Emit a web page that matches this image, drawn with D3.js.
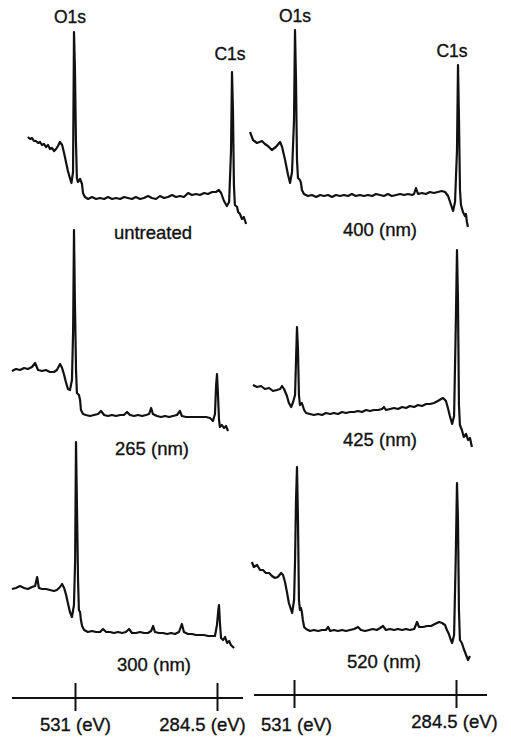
<!DOCTYPE html>
<html>
<head>
<meta charset="utf-8">
<script src="https://cdn.jsdelivr.net/npm/d3@7"></script>
<style>
  html, body { margin: 0; padding: 0; background: #fff; }
  svg text { font-family: "Liberation Sans", Arial, Helvetica, sans-serif; fill: #111; stroke: #111; stroke-width: 0.35px; }
</style>
</head>
<body>
<div id="chart"></div>
<script>
// XPS survey spectra, [binding energy (eV), intensity (a.u.)]
var untreated = [[603,46.5],[599.5,45.5],[596.5,46],[593.5,44.5],[590.5,44.5],[587,43.5],[584,44],[581,42.5],[578,43],[574.5,41.5],[571.5,42.5],[568.5,40.5],[565.5,41],[562,39.5],[559,40.5],[556,42],[553,44],[549.5,42.5],[546.5,38.5],[543.5,34],[540.5,29.5],[537,25.5],[535,23.5],[532.5,29],[531,99],[529.5,80],[528,45],[526.5,26],[525,24],[521.5,25.5],[518.5,23],[517,18.5],[514,16.5],[509,15.5],[503,16.5],[496.5,15.5],[490.5,16],[484,15.5],[478,16.5],[471.5,15.5],[465.5,16],[459,15.5],[453,16.5],[447,16],[440.5,15.5],[434.5,16.5],[428,15.5],[422,16],[415.5,17],[409.5,16],[403,15.5],[397,17],[390.5,16],[384.5,16.5],[378,17.5],[372,16.5],[365.5,17],[359.5,16.5],[353,18.5],[347,17.5],[340.5,18],[334.5,17.5],[328,18.5],[322,18],[315.5,19],[309.5,19],[305,20],[301.5,18.5],[297,14.5],[292.5,12],[289,14],[286,40],[284.5,79],[283,60],[281.5,22.5],[280,12.5],[276.5,11.5],[275,9],[272,8],[269,5.5],[266,6.5],[262.5,3]];

var nm400 = [[599,49],[594.5,45],[588.5,43.5],[581,44.5],[576.5,43],[572,42],[566,40],[560,41.5],[553.5,44],[550.5,41.5],[546,35],[541.5,27.5],[538.5,23.5],[535.5,29],[532.5,55],[531,100],[529.5,75],[528,35],[526.5,26],[523.5,25],[522,23.5],[520.5,20],[517.5,18],[511.5,17],[505.5,17.5],[499,16.5],[493,17.5],[487,17],[481,17.5],[475,16.5],[469,17.5],[463,17],[457,17.5],[451,17],[445,18],[439,17],[433,17.5],[427,17],[420.5,17.5],[414.5,17],[408.5,18],[402.5,17.5],[396.5,17],[390.5,18],[384.5,17],[378,17.5],[372,18],[366,17.5],[360,18],[354,17.5],[351,18],[348,21],[345,18],[339,18.5],[333,18],[327,19],[321,18.5],[315,19],[309,19.5],[304,19],[299.5,17],[295,12.5],[292,9.5],[289,14],[286,40],[284.5,82.5],[283,55],[281.5,20],[280,12.5],[277,9],[274,7],[272.5,8],[271,4],[269.5,1.5]];

var nm265 = [[638,39.5],[631,40.5],[624,40],[617,41],[610.5,40.5],[603.5,41.5],[598,43.5],[593,40],[586,39.5],[579.5,40],[572.5,39],[565.5,39],[560.5,40],[555,43],[551.5,41],[548,37.5],[545,34],[541.5,30.5],[538,30],[534.5,35],[532.5,60],[531,110],[529.5,75],[527.5,40],[526,28.5],[522.5,27.5],[520.5,25],[519,20],[515.5,18],[510.5,17.5],[503.5,17],[496.5,17.5],[489.5,18],[484.5,19.5],[479,17.5],[472.5,17],[465.5,17.5],[458.5,17],[451.5,17.5],[445,17.5],[439.5,19],[434.5,17.5],[427.5,17],[420.5,17.5],[413.5,17],[407,17.5],[401.5,18],[398,21],[395,18],[388,17],[381,16.5],[374,17],[367,16.5],[360.5,17],[353.5,17.5],[348.5,19.5],[345,17],[338,16.5],[331,16.5],[324,16.5],[317,16.5],[310.5,16.5],[303.5,16.5],[296.5,16],[291.5,14.5],[288,18],[286,32.5],[284.5,38],[283,29],[281,15],[279.5,11.5],[276,12.5],[272.5,11],[269,12],[265.5,9.5]];

var nm425 = [[599,32.5],[592.5,31.5],[586.5,32],[580.5,30.5],[574,31],[568,29.5],[562,30],[557,30.5],[554,32],[551,30.5],[546.5,27],[543.5,23.5],[540,21.5],[537,24],[534,27.5],[532.5,45],[531,61.5],[529.5,50],[528,27.5],[526.5,22.5],[523.5,23.5],[520,20],[517,18.5],[511,18],[505,17.5],[498.5,18],[492.5,17.5],[486.5,18.5],[480,18],[474,18.5],[468,18],[461.5,19],[455.5,18.5],[449.5,19],[443,19],[437,19.5],[431,19],[424.5,20],[418.5,19.5],[412.5,20],[406,20],[400,20.5],[397,21.5],[394,20],[387.5,20.5],[381.5,21],[375.5,20.5],[369,21.5],[363,21],[357,22],[350.5,21.5],[344.5,22.5],[338.5,22],[332,23],[326,23],[320,23.5],[314,24.5],[309,25.5],[306,26],[301.5,24.5],[298.5,21],[295.5,17],[292,13],[289,17],[286.5,60],[284.5,100],[283,75],[281.5,22.5],[280,12.5],[277,10],[274,6.5],[270.5,8],[267.5,5],[264.5,6],[261.5,1.5]];

var nm300 = [[641.5,40.5],[634.5,41],[627.5,42],[620.5,41],[614,40.5],[607,41.5],[601.5,42],[598,46.5],[595,41],[589.5,40.5],[582.5,40.5],[576,40],[569,39.5],[564,40],[558.5,41.5],[555,43],[551.5,41],[548,37.5],[545,33.5],[541.5,29],[538,26.5],[534.5,32.5],[532.5,55],[531,114],[529.5,85],[527.5,45],[526,30],[524,29],[522.5,25],[520.5,22],[517,20],[510.5,19],[503.5,19.5],[496.5,19],[489.5,19],[484.5,20.5],[479,19],[472.5,19],[465.5,18.5],[458.5,19],[451.5,18.5],[445,19],[439.5,20.5],[434.5,18.5],[427.5,18.5],[420.5,19],[413.5,18.5],[407,18.5],[401.5,19.5],[398,22],[395,19],[388,18.5],[381,18.5],[374,18],[367,18.5],[360.5,18],[353.5,19],[348.5,23],[345,19],[338,18],[331,18],[324,17.5],[317,17.5],[310.5,17.5],[303.5,17],[296.5,17],[291.5,17],[288,22.5],[286,29],[284.5,32.5],[283,24],[281,16],[277.5,15],[274,16.5],[270.5,13.5],[267,14.5],[264,12.5],[258.5,11]];

var nm520 = [[600.5,54],[597.5,51.5],[592.5,52.5],[588,50],[583.5,50],[579,48.5],[574,48.5],[569.5,47],[565,46],[560.5,46.5],[555.5,48.5],[552.5,47.5],[549.5,44],[546.5,39],[543.5,33.5],[540,30],[538.5,28.5],[535.5,35],[534,55],[532.5,85],[531,101.5],[529.5,75],[528,35],[526.5,30],[525,31],[523.5,29],[522,25],[520,21.5],[517,20.5],[511,19.5],[505,20],[498.5,19.5],[492.5,20],[486.5,20],[483,21.5],[480,19.5],[474,20],[468,19.5],[461.5,20],[455.5,19.5],[449.5,20],[443,20.5],[437,21.5],[432.5,20],[426,19.5],[420,20],[414,20.5],[408,20],[403,21],[398.5,22],[394,20],[387.5,20.5],[381.5,20],[375.5,20.5],[369,20],[363,20.5],[357,20],[350.5,20.5],[346,24],[343,21.5],[337,21.5],[330.5,22],[324.5,22],[318.5,23],[312,24],[307.5,23.5],[303,22.5],[300,20],[297,18],[294,15],[292,13.5],[289,17.5],[286.5,55],[284.5,93.5],[283,75],[281.5,30],[280,15],[277,13.5],[274,10.5],[270.5,7.5],[267.5,5],[264.5,7]];

var panelNames = ['untreated', '400 (nm)', '265 (nm)', '425 (nm)', '300 (nm)', '520 (nm)'];
var peakNames = ['O1s', 'C1s'];
var peakEnergies = [531, 284.5];
var tickLabels = ['531 (eV)', '284.5 (eV)'];

var W = 511, H = 740;
var svg = d3.select('#chart').append('svg')
    .attr('width', W)
    .attr('height', H)
    .attr('viewBox', '0 0 ' + W + ' ' + H);

// layout of each scanned panel: where the two peaks fall, base line of the row, caption spot
var panels = [
  { data: untreated, xO: 74,  xC: 232, base: 230, cx: 153, cy: 239 },
  { data: nm400,     xO: 295, xC: 458, base: 230, cx: 380, cy: 236 },
  { data: nm265,     xO: 74,  xC: 217, base: 450, cx: 152, cy: 455 },
  { data: nm425,     xO: 297, xC: 457, base: 450, cx: 380, cy: 446 },
  { data: nm300,     xO: 76,  xC: 219, base: 670, cx: 154, cy: 671 },
  { data: nm520,     xO: 297, xC: 457, base: 670, cx: 384, cy: 668 }
];

panels.forEach(function(p, i) {
  var x = d3.scaleLinear().domain(peakEnergies).range([p.xO, p.xC]);
  var y = d3.scaleLinear().domain([0, 100]).range([p.base, p.base - 200]);
  var line = d3.line()
      .x(function(d) { return x(d[0]); })
      .y(function(d) { return y(d[1]); });

  svg.append('path')
      .datum(p.data)
      .attr('d', line)
      .attr('fill', 'none')
      .attr('stroke', '#111')
      .attr('stroke-width', 2.2)
      .attr('stroke-linejoin', 'round');

  svg.append('text')
      .attr('x', p.cx)
      .attr('y', p.cy)
      .attr('text-anchor', 'middle')
      .attr('font-size', 18.5)
      .text(panelNames[i]);
});

// peak names above the top row
var peakSpots = [
  [{ x: 70, y: 23 }, { x: 230, y: 60 }],
  [{ x: 295, y: 22 }, { x: 452, y: 57 }]
];
peakSpots.forEach(function(col) {
  col.forEach(function(s, j) {
    svg.append('text')
        .attr('x', s.x)
        .attr('y', s.y)
        .attr('text-anchor', 'middle')
        .attr('font-size', 17.5)
        .text(peakNames[j]);
  });
});

// energy axes under each column (labels sit a little off their ticks in the scan)
var axes = [
  { r: [75, 217], y: 698, x0: 12, x1: 243, ly: [731, 731], dx: [0, -15] },
  { r: [294, 456], y: 695, x0: 254, x1: 487, ly: [731, 728], dx: [2, -2] }
];
axes.forEach(function(a) {
  var ax = d3.scaleLinear().domain(peakEnergies).range(a.r);
  svg.append('line')
      .attr('x1', a.x0).attr('x2', a.x1)
      .attr('y1', a.y).attr('y2', a.y)
      .attr('stroke', '#111')
      .attr('stroke-width', 2.2);

  var g = svg.append('g')
      .attr('transform', 'translate(0,' + a.y + ')')
      .call(d3.axisBottom(ax)
        .tickValues(peakEnergies)
        .tickSize(14)
        .tickFormat(function(d, k) { return tickLabels[k]; }));
  g.select('.domain').remove();
  g.selectAll('.tick line')
      .attr('y1', -15)
      .attr('y2', 13)
      .attr('stroke', '#111')
      .attr('stroke-width', 2);
  g.selectAll('.tick text')
      .attr('y', function(d, k) { return a.ly[k] - a.y; })
      .attr('x', function(d, k) { return a.dx[k]; })
      .attr('dy', 0)
      .attr('font-size', 18.5)
      .attr('font-family', '"Liberation Sans", Arial, Helvetica, sans-serif')
      .attr('fill', '#111');
});
</script>
</body>
</html>
